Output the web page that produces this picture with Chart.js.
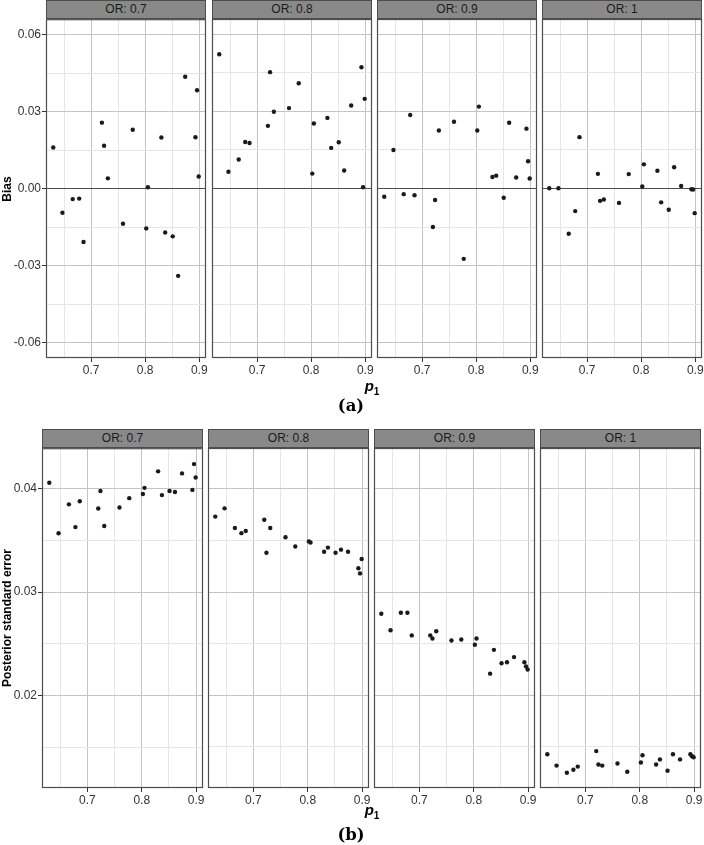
<!DOCTYPE html>
<html>
<head>
<meta charset="utf-8">
<script src="https://cdn.jsdelivr.net/npm/chart.js@4.4.1/dist/chart.umd.min.js"></script>
<style>
  body { margin: 0; background: #fff; }
  #wrap { position: relative; width: 704px; height: 845px; overflow: hidden; font-family: "Liberation Sans", Arial, sans-serif; }
  #wrap canvas { position: absolute; }
  .strip { position: absolute; height: 19px; background: #898989; border: 1px solid #4d4d4d; box-sizing: border-box;
           color: #1a1a1a; font-size: 12px; line-height: 17px; text-align: center; }
  .ytitle { position: absolute; font-weight: bold; font-size: 12px; color: #000; white-space: nowrap;
            transform: translate(-50%, -50%) rotate(-90deg); }
  .xtitle { position: absolute; font-weight: bold; font-style: italic; font-size: 15px; color: #000; transform: translateX(-50%); }
  .xtitle sub { font-size: 10px; font-style: normal; }
  .tag { position: absolute; font-family: "DejaVu Serif", "Liberation Serif", serif; font-weight: bold; font-size: 16.5px; color: #000; transform: translate(-50%, -50%); }
</style>
</head>
<body>
<div id="wrap"></div>
<script>
// p1 values shared by every facet
const p1 = [0.630, 0.647, 0.666, 0.678, 0.686, 0.720, 0.724, 0.731, 0.759, 0.777,
            0.802, 0.805, 0.830, 0.837, 0.851, 0.861, 0.874, 0.893, 0.896, 0.899];
const orLabels = ['OR: 0.7', 'OR: 0.8', 'OR: 0.9', 'OR: 1'];

// panel (a): bias
const bias07 = [0.0160, -0.0094, -0.0041, -0.0039, -0.0208, 0.0257, 0.0167, 0.0040, -0.0137, 0.0229,
                -0.0155, 0.0005, 0.0199, -0.0171, -0.0186, -0.0340, 0.0436, 0.0200, 0.0383, 0.0047];
const bias08 = [0.0523, 0.0065, 0.0113, 0.0181, 0.0177, 0.0244, 0.0453, 0.0299, 0.0313, 0.0410,
                0.0058, 0.0253, 0.0275, 0.0158, 0.0180, 0.0070, 0.0323, 0.0472, 0.0005, 0.0349];
const bias09 = [-0.0032, 0.0150, -0.0022, 0.0286, -0.0026, -0.0150, -0.0045, 0.0226, 0.0260, -0.0274,
                0.0226, 0.0319, 0.0045, 0.0050, -0.0036, 0.0256, 0.0043, 0.0233, 0.0106, 0.0039];
const bias10 = [0.0001, 0.0001, -0.0176, -0.0088, 0.0200, 0.0057, -0.0048, -0.0043, -0.0056, 0.0056,
                0.0008, 0.0094, 0.0069, -0.0054, -0.0083, 0.0083, 0.0010, -0.0003, -0.0004, -0.0096];

// panel (b): posterior standard error
const se07 = [0.0406, 0.0357, 0.0385, 0.0363, 0.0388, 0.0381, 0.0398, 0.0364, 0.0382, 0.0391,
              0.0395, 0.0401, 0.0417, 0.0394, 0.0398, 0.0397, 0.0415, 0.0399, 0.0424, 0.0411];
const se08 = [0.0373, 0.0381, 0.0362, 0.0357, 0.0359, 0.0370, 0.0338, 0.0362, 0.0353, 0.0344,
              0.0349, 0.0348, 0.0339, 0.0343, 0.0338, 0.0341, 0.0339, 0.0323, 0.0318, 0.0332];
const se09 = [0.0279, 0.0263, 0.0280, 0.0280, 0.0258, 0.0258, 0.0255, 0.0262, 0.0253, 0.0254,
              0.0249, 0.0255, 0.0221, 0.0244, 0.0231, 0.0232, 0.0237, 0.0232, 0.0228, 0.0225];
const se10 = [0.0143, 0.0132, 0.0125, 0.0128, 0.0131, 0.0146, 0.0133, 0.0132, 0.0134, 0.0126,
              0.0135, 0.0142, 0.0133, 0.0138, 0.0127, 0.0143, 0.0138, 0.0143, 0.0141, 0.0140];

const p1Ticks = [0.7, 0.8, 0.9];
const p1Minor = [0.65, 0.75, 0.85];
const biasTicks = [-0.06, -0.03, 0, 0.03, 0.06];
const biasMinor = [-0.045, -0.015, 0.015, 0.045];
const seTicks = [0.02, 0.03, 0.04];
const seMinor = [0.015, 0.025, 0.035];

Chart.defaults.font.family = '"Liberation Sans", Arial, sans-serif';

const wrap = document.getElementById('wrap');

const frame = {
  id: 'frame',
  afterDraw(chart) {
    const a = chart.chartArea, c = chart.ctx;
    c.save();
    c.strokeStyle = '#4d4d4d';
    c.lineWidth = 1.2;
    c.strokeRect(a.left + 0.5, a.top + 0.5, a.right - a.left - 1, a.bottom - a.top - 1);
    c.restore();
  }
};

function tickList(major, minor) {
  return minor.map(v => ({ value: v, minor: true })).concat(major.map(v => ({ value: v, minor: false })));
}

function gridColor(ctx) {
  if (!ctx.tick) return 'rgba(0,0,0,0)';
  if (ctx.tick.value === 0 && ctx.scale.axis === 'y') return '#4d4d4d';
  return ctx.tick.minor ? '#e6e6e6' : '#c4c4c4';
}

function addFacet(panel, i, values) {
  const left = panel.lefts[i], w = panel.width;
  const padTop = 8, padRight = 12, xH = 24;
  const first = i === 0;
  const cv = document.createElement('canvas');
  const cw = panel.yw + w + padRight, ch = padTop + (panel.bottom - panel.top) + xH;
  cv.width = cw; cv.height = ch;
  cv.style.left = (left - panel.yw) + 'px';
  cv.style.top = (panel.top - padTop) + 'px';
  wrap.appendChild(cv);

  const strip = document.createElement('div');
  strip.className = 'strip';
  strip.style.left = left + 'px';
  strip.style.width = w + 'px';
  strip.style.top = (panel.top - 19) + 'px';
  strip.textContent = orLabels[i];
  wrap.appendChild(strip);

  new Chart(cv, {
    type: 'scatter',
    data: {
      datasets: [{
        data: p1.map((x, k) => ({ x: x, y: values[k] })),
        backgroundColor: '#1a1a1a',
        borderWidth: 0,
        pointRadius: 2.2
      }]
    },
    options: {
      responsive: false,
      animation: false,
      devicePixelRatio: 1,
      layout: { padding: { top: padTop, right: padRight, left: 0, bottom: 0 } },
      plugins: { legend: { display: false }, tooltip: { enabled: false } },
      scales: {
        x: {
          type: 'linear',
          min: 0.6166, max: 0.9125,
          afterBuildTicks: s => { s.ticks = tickList(p1Ticks, p1Minor); },
          afterFit: s => { s.height = xH; },
          border: { display: false },
          grid: {
            color: gridColor,
            tickColor: ctx => (ctx.tick && !ctx.tick.minor) ? '#333' : 'rgba(0,0,0,0)',
            tickLength: 4,
            lineWidth: 1
          },
          ticks: {
            autoSkip: false, maxRotation: 0, padding: 1,
            color: '#333', font: { size: 12 },
            callback: (v, k, t) => t[k].minor ? '' : v.toFixed(1)
          }
        },
        y: {
          type: 'linear',
          min: panel.ymin, max: panel.ymax,
          afterBuildTicks: s => { s.ticks = tickList(panel.ticks, panel.minor); },
          afterFit: s => { s.width = panel.yw; },
          border: { display: false },
          grid: {
            color: gridColor,
            tickColor: ctx => (first && ctx.tick && !ctx.tick.minor) ? '#333' : 'rgba(0,0,0,0)',
            tickLength: 4,
            lineWidth: 1
          },
          ticks: {
            display: first, autoSkip: false, padding: 1,
            color: '#333', font: { size: 12 },
            callback: (v, k, t) => t[k].minor ? '' : v.toFixed(2)
          }
        }
      }
    },
    plugins: [frame]
  });
}

const panelA = { top: 19, bottom: 358, lefts: [46, 212, 377, 542], width: 160, yw: 46,
                 ymin: -0.066, ymax: 0.066, ticks: biasTicks, minor: biasMinor };
const panelB = { top: 448, bottom: 788, lefts: [42, 208, 374, 540], width: 161, yw: 42,
                 ymin: 0.01103, ymax: 0.04394, ticks: seTicks, minor: seMinor };

[bias07, bias08, bias09, bias10].forEach((v, i) => addFacet(panelA, i, v));
[se07, se08, se09, se10].forEach((v, i) => addFacet(panelB, i, v));

function addText(cls, html, x, y) {
  const d = document.createElement('div');
  d.className = cls;
  d.innerHTML = html;
  d.style.left = x + 'px';
  d.style.top = y + 'px';
  wrap.appendChild(d);
}
addText('ytitle', 'Bias', 7, 189);
addText('ytitle', 'Posterior standard error', 7, 618);
addText('xtitle', '<i>p</i><sub>1</sub>', 372, 377);
addText('xtitle', '<i>p</i><sub>1</sub>', 372, 801);
addText('tag', '(a)', 351, 405);
addText('tag', '(b)', 351, 834);
</script>
</body>
</html>
